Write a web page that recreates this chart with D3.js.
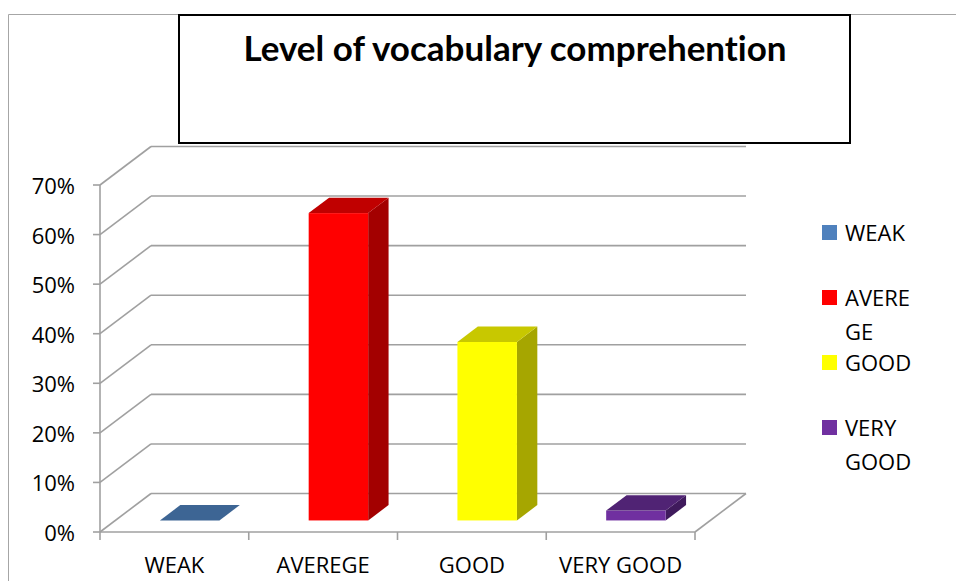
<!DOCTYPE html>
<html>
<head>
<meta charset="utf-8">
<script src="https://cdn.jsdelivr.net/npm/d3@7/dist/d3.min.js"></script>
<style>
  html, body { margin: 0; padding: 0; background: #fff; }
  svg { display: block; }
  text { font-family: "Open Sans", "Noto Sans", sans-serif; fill: #000; }
  text.title { font-family: Lato, "Open Sans", sans-serif; font-variant-ligatures: none; font-feature-settings: "liga" 0, "clig" 0; }
</style>
</head>
<body>
<svg id="chart" width="956" height="581"></svg>
<script>
// ---- data ----
const titleText = "Level of vocabulary comprehention";
const categories = ["WEAK", "AVEREGE", "GOOD", "VERY GOOD"];
const values = [0.00, 0.62, 0.36, 0.02];
const yTicks = [0, 0.1, 0.2, 0.3, 0.4, 0.5, 0.6, 0.7];
const legendLabels = [["WEAK"], ["AVERE", "GE"], ["GOOD"], ["VERY", "GOOD"]];

// ---- style ----
const frontColors = ["#4F81BD", "#FF0000", "#FFFF00", "#7030A0"];
const topColors   = ["#3D6594", "#C00000", "#C8C800", "#502374"];
const sideColors  = ["#2F4F75", "#A30000", "#A6A600", "#3F1A5C"];
const gridColor = "#A0A0A0";

const svg = d3.select("#chart");

// outer chart area border
svg.append("path")
  .attr("d", "M8.5,581 L8.5,14.5 L956,14.5")
  .attr("fill", "none").attr("stroke", "#A6A6A6").attr("stroke-width", 1);

// geometry
const x0 = 100, x1 = 695, yBase = 532, yTop = 185;
const depthX = 51, depthY = -38.5;
const x = d3.scaleBand().domain(categories).range([x0, x1]).paddingInner(0.6).paddingOuter(0.3);
const y = d3.scaleLinear().domain([0, 0.7]).range([yBase, yTop]);

const g = svg.append("g");

// back wall gridlines
g.selectAll("line.grid").data(yTicks).join("line")
  .attr("class", "grid")
  .attr("x1", x0 + depthX).attr("x2", x1 + depthX)
  .attr("y1", d => y(d) + depthY).attr("y2", d => y(d) + depthY)
  .attr("stroke", gridColor).attr("stroke-width", 1.6);

// side wall diagonal gridlines
g.selectAll("line.side").data(yTicks).join("line")
  .attr("class", "side")
  .attr("x1", x0).attr("x2", x0 + depthX)
  .attr("y1", d => y(d)).attr("y2", d => y(d) + depthY)
  .attr("stroke", gridColor).attr("stroke-width", 1.6);

// floor right edge
g.append("line")
  .attr("x1", x1).attr("y1", y(0)).attr("x2", x1 + depthX).attr("y2", y(0) + depthY)
  .attr("stroke", gridColor).attr("stroke-width", 1.6);

// bars (3D)
const dFront = 0.3, dBack = 0.7;
const bars = g.selectAll("g.bar").data(categories).join("g").attr("class", "bar");
bars.each(function(c, i) {
  const b = d3.select(this);
  const bx = x(c) + dFront * depthX;
  const bw = x.bandwidth();
  const by0 = y(0) + dFront * depthY;
  const by1 = y(values[i]) + dFront * depthY;
  const ddx = (dBack - dFront) * depthX, ddy = (dBack - dFront) * depthY;
  // side face
  b.append("path")
    .attr("d", `M${bx + bw},${by0} L${bx + bw + ddx},${by0 + ddy} L${bx + bw + ddx},${by1 + ddy} L${bx + bw},${by1} Z`)
    .attr("fill", sideColors[i]);
  // front face
  b.append("rect")
    .attr("x", bx).attr("y", by1).attr("width", bw).attr("height", Math.max(0, by0 - by1))
    .attr("fill", frontColors[i]);
  // top face
  b.append("path")
    .attr("d", `M${bx},${by1} L${bx + ddx},${by1 + ddy} L${bx + bw + ddx},${by1 + ddy} L${bx + bw},${by1} Z`)
    .attr("fill", topColors[i]);
});

// vertical axis
g.append("line")
  .attr("x1", x0).attr("x2", x0).attr("y1", y(0)).attr("y2", y(0.7))
  .attr("stroke", gridColor).attr("stroke-width", 1.6);
g.selectAll("line.ytick").data(yTicks).join("line")
  .attr("class", "ytick")
  .attr("x1", x0 - 7).attr("x2", x0).attr("y1", d => y(d)).attr("y2", d => y(d))
  .attr("stroke", gridColor).attr("stroke-width", 1.6);
g.selectAll("text.ylab").data(yTicks).join("text")
  .attr("class", "ylab")
  .attr("x", 75).attr("y", d => y(d) + 9)
  .attr("text-anchor", "end")
  .attr("font-size", 22)
  .text(d3.format(".0%"));

// horizontal axis (floor front edge)
g.append("line")
  .attr("x1", x0).attr("x2", x1).attr("y1", y(0)).attr("y2", y(0))
  .attr("stroke", gridColor).attr("stroke-width", 1.6);
const boundaries = categories.map(c => x(c) - x.step() * x.paddingInner() / 2).concat([x1]);
boundaries[0] = x0;
g.selectAll("line.xtick").data(boundaries).join("line")
  .attr("class", "xtick")
  .attr("x1", d => d).attr("x2", d => d).attr("y1", y(0)).attr("y2", y(0) + 8)
  .attr("stroke", gridColor).attr("stroke-width", 1.6);
g.selectAll("text.xlab").data(categories).join("text")
  .attr("class", "xlab")
  .attr("x", c => x(c) + x.bandwidth() / 2)
  .attr("y", 573)
  .attr("text-anchor", "middle")
  .attr("font-size", 22)
  .text(c => c);

// title box
svg.append("rect")
  .attr("x", 179).attr("y", 15).attr("width", 671).attr("height", 128)
  .attr("fill", "#fff").attr("stroke", "#000").attr("stroke-width", 2);
const title = svg.append("text")
  .attr("class", "title")
  .attr("x", 515).attr("y", 61)
  .attr("text-anchor", "middle")
  .attr("font-weight", "bold")
  .attr("font-size", 32)
  .text(titleText);
const tw = title.node().getComputedTextLength();
title.attr("font-size", Math.min(35, 32 * 544 / tw));

// legend
const legendY = [225, 290, 355, 420];
const leg = svg.append("g");
legendLabels.forEach((lines, i) => {
  leg.append("rect")
    .attr("x", 822).attr("y", legendY[i]).attr("width", 15).attr("height", 15)
    .attr("fill", frontColors[i]);
  const t = leg.append("text").attr("x", 845).attr("y", legendY[i] + 16).attr("font-size", 22);
  lines.forEach((ln, j) => {
    t.append("tspan").attr("x", 845).attr("dy", j === 0 ? 0 : 33.5).text(ln);
  });
});
</script>
</body>
</html>
